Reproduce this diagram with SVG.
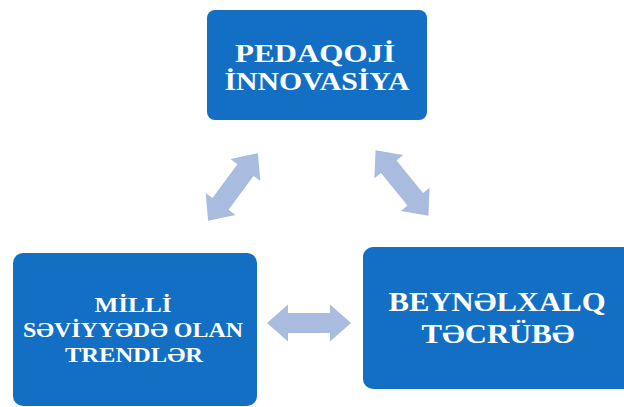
<svg xmlns="http://www.w3.org/2000/svg" width="624" height="407" viewBox="0 0 624 407">
<style>
.box{fill:#136fc4}
.t{font-family:"Liberation Serif","Times New Roman","DejaVu Serif",serif;font-weight:bold;fill:#ffffff;text-anchor:middle}
.arr{fill:#a9bce0}
</style>
<defs>
<path id="dbl" d="M -42 0 L -21 -18.5 L -21 -10 L 21 -10 L 21 -18.5 L 42 0 L 21 18.5 L 21 10 L -21 10 L -21 18.5 Z"/>
</defs>
<g id="connectors">
<use href="#dbl" class="arr" transform="translate(233,187) rotate(-53.7)"/>
<use href="#dbl" class="arr" transform="translate(402,183) rotate(51)"/>
<use href="#dbl" class="arr" transform="translate(309,323)"/>
</g>
<g id="node-top">
<rect class="box" x="207" y="10" width="220" height="110" rx="8"/>
<text class="t" font-size="26" x="315" y="62" textLength="160" lengthAdjust="spacingAndGlyphs">PEDAQOJİ</text>
<text class="t" font-size="26" x="317" y="90" textLength="185" lengthAdjust="spacingAndGlyphs">İNNOVASİYA</text>
</g>
<g id="node-left">
<rect class="box" x="13" y="253" width="244" height="153" rx="10"/>
<text class="t" font-size="20" x="133" y="312" textLength="77" lengthAdjust="spacingAndGlyphs">MİLLİ</text>
<text class="t" font-size="20" x="133" y="337" textLength="220" lengthAdjust="spacingAndGlyphs">SƏVİYYƏDƏ OLAN</text>
<text class="t" font-size="20" x="134" y="362" textLength="138" lengthAdjust="spacingAndGlyphs">TRENDLƏR</text>
</g>
<g id="node-right">
<rect class="box" x="363" y="247" width="270" height="142" rx="10"/>
<text class="t" font-size="27" x="497" y="311" textLength="217" lengthAdjust="spacingAndGlyphs">BEYNƏLXALQ</text>
<text class="t" font-size="27" x="498" y="343" textLength="153" lengthAdjust="spacingAndGlyphs">TƏCRÜBƏ</text>
</g>
</svg>
